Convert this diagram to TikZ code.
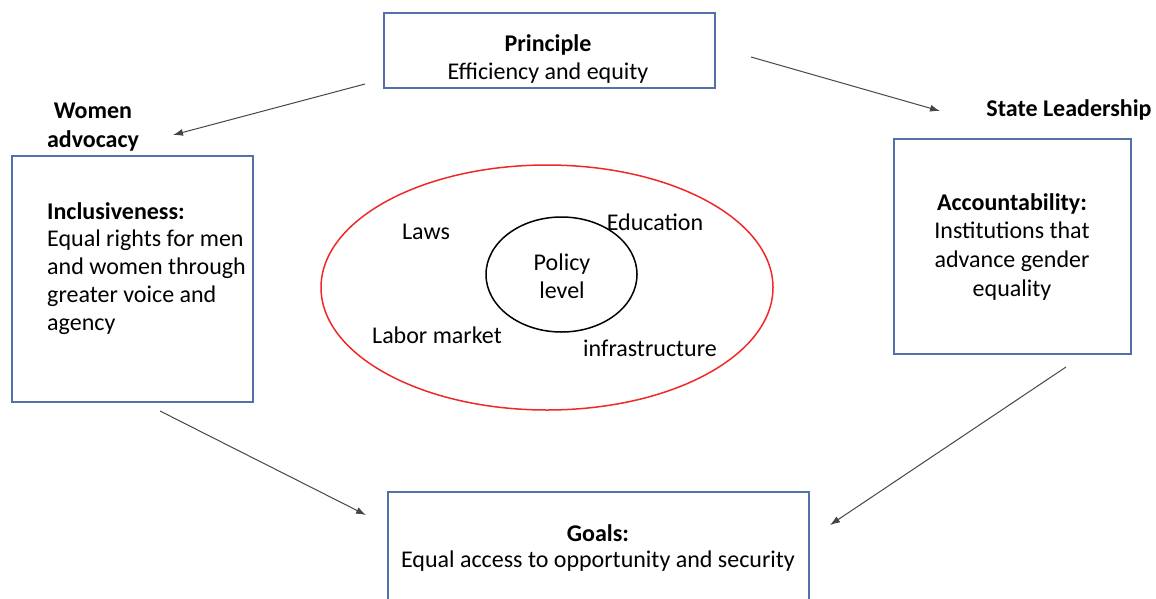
\documentclass[tikz,border=0pt]{standalone}
\usepackage{fontspec}
\setmainfont{Carlito}
\usetikzlibrary{arrows.meta,shapes.geometric}
\definecolor{boxblue}{RGB}{84,112,168}
\definecolor{arrowgray}{RGB}{70,70,70}
\definecolor{ringred}{RGB}{240,40,40}
\begin{document}
\begin{tikzpicture}[x=1pt,y=-1pt,
  every node/.style={font=\fontsize{24}{28}\selectfont, inner sep=0pt},
  panel/.style={draw=boxblue, line width=1.8pt},
  link/.style={draw=arrowgray, line width=1pt, -{Latex[length=10pt,width=7pt]}},
  heading/.style={font=\fontsize{24}{29}\selectfont\bfseries, align=center}]
\useasboundingbox (0,0) rectangle (1156,598);

% boxes
\node[panel, minimum width=331, minimum height=75, anchor=north west] (principle) at (383,12) {};
\node[panel, minimum width=241, minimum height=246, anchor=north west] (incl) at (11,155) {};
\node[panel, minimum width=237, minimum height=215, anchor=north west] (acc) at (893,138) {};
\begin{scope}
\clip (0,0) rectangle (1156,598);
\node[panel, minimum width=421, minimum height=115, anchor=north west] (goals) at (387,491) {};
\end{scope}

% box texts
\node[font=\fontsize{24}{28}\selectfont\bfseries] (principletitle) at (548,45) {Principle};
\node (principletext) at (548,73) {Efficiency and equity};

\node[anchor=west, font=\fontsize{24}{28}\selectfont\bfseries] (incltitle) at (47,211) {Inclusiveness:};
\node[anchor=north west, align=left] (incltext) at (47,230)
  {Equal rights for men\\and women through\\greater voice and\\agency};

\node[font=\fontsize{24}{28}\selectfont\bfseries] (acctitle) at (1012,204) {Accountability:};
\node[anchor=north, align=center, font=\fontsize{24}{29}\selectfont] (acctext) at (1012,222)
  {Institutions that\\advance gender\\equality};

\node[font=\fontsize{24}{28}\selectfont\bfseries] (goalstitle) at (598,533) {Goals:};
\node (goalstext) at (598,561) {Equal access to opportunity and security};

% side labels
\node[heading] (women) at (93,127) {Women\\advocacy};
\node[heading] (state) at (1069,110) {State Leadership};

% policy rings
\node[draw=ringred, line width=1.5pt, ellipse, minimum width=452, minimum height=245] (outer) at (547,287.5) {};
\node[draw=black, line width=1.5pt, ellipse, minimum width=151, minimum height=115] (inner) at (561.5,274.5) {};
\node[align=center, font=\fontsize{24}{28}\selectfont] (policy) at (562,276) {Policy\\level};
\node (laws) at (426,232) {Laws};
\node (education) at (655,222) {Education};
\node (labor) at (437,335) {Labor market};
\node (infra) at (650,348) {infrastructure};

% connectors
\coordinate (p1) at (365,84);
\coordinate (w1) at (173,135);
\coordinate (p2) at (751,57);
\coordinate (s1) at (940,111);
\coordinate (i1) at (160,411);
\coordinate (g1) at (366,515);
\coordinate (a1) at (1066,367);
\coordinate (g2) at (830,525);
\draw[link] (p1) -- (w1);
\draw[link] (p2) -- (s1);
\draw[link] (i1) -- (g1);
\draw[link] (a1) -- (g2);
\end{tikzpicture}
\end{document}
